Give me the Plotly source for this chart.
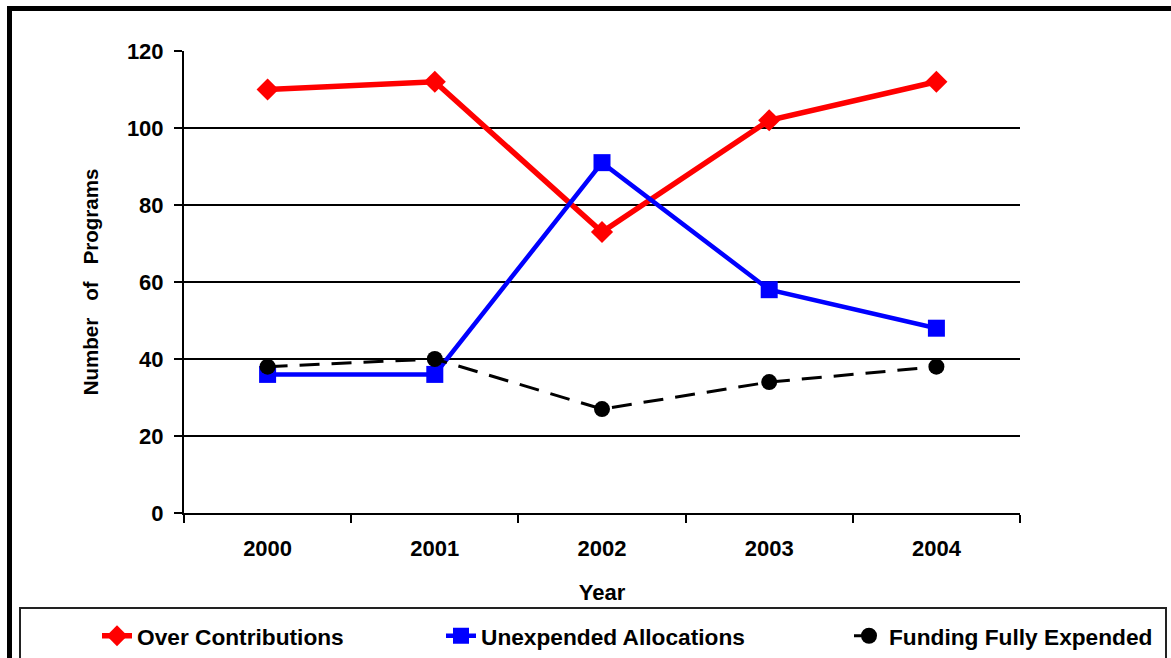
import plotly.graph_objects as go

years = ["2000", "2001", "2002", "2003", "2004"]
over_contributions = [110, 112, 73, 102, 112]
unexpended_allocations = [36, 36, 91, 58, 48]
funding_fully_expended = [38, 40, 27, 34, 38]
y_ticks = [0, 20, 40, 60, 80, 100, 120]

FONT = "Liberation Sans, Arial, sans-serif"

# plot area in pixels
W, H = 1171, 658
L, R, T, B = 184, 1020, 51, 513


def px(x):
    return (x - L) / (R - L)


def py(y):
    return (B - y) / (B - T)


fig = go.Figure()
fig.add_trace(go.Scatter(
    x=years, y=over_contributions, name="Over Contributions",
    mode="lines+markers", legend="legend",
    line=dict(color="#ff0000", width=5.5),
    marker=dict(symbol="diamond", size=17, color="#ff0000"),
))
fig.add_trace(go.Scatter(
    x=years, y=unexpended_allocations, name="Unexpended Allocations",
    mode="lines+markers", legend="legend2",
    line=dict(color="#0000ff", width=4.5),
    marker=dict(symbol="square", size=17, color="#0000ff"),
))
fig.add_trace(go.Scatter(
    x=years, y=funding_fully_expended, name="Funding Fully Expended",
    mode="lines+markers", legend="legend3",
    line=dict(color="#000000", width=3, dash="20px,12px"),
    marker=dict(symbol="circle", size=16, color="#000000"),
))

shapes = [
    # outer frame (left and top edges)
    dict(type="line", xref="paper", yref="paper", x0=px(9.5), x1=px(1175), y0=py(8.5), y1=py(8.5),
         line=dict(color="black", width=5)),
    dict(type="line", xref="paper", yref="paper", x0=px(9.5), x1=px(9.5), y0=py(6), y1=py(665),
         line=dict(color="black", width=5)),
    # legend box
    dict(type="rect", xref="paper", yref="paper", x0=px(20), x1=px(1166), y0=py(608), y1=py(670),
         line=dict(color="#222222", width=2), fillcolor="rgba(0,0,0,0)"),
]


def leg(x_text):
    return dict(
        orientation="h", x=px(x_text - 40), xanchor="left", y=py(636), yanchor="middle",
        font=dict(family=FONT, size=22.7, color="black", weight="bold"),
        bgcolor="rgba(0,0,0,0)", borderwidth=0,
    )


fig.update_layout(
    width=W, height=H,
    margin=dict(l=L, r=W - R, t=T, b=H - B, pad=0, autoexpand=False),
    paper_bgcolor="white", plot_bgcolor="white",
    font=dict(family=FONT, color="black", size=22, weight="bold"),
    showlegend=True,
    legend=leg(137),
    legend2=leg(481),
    legend3=leg(889),
    shapes=shapes,
    xaxis=dict(
        type="category", range=[-0.5, 4.5],
        tickson="boundaries", ticks="outside", ticklen=8, tickwidth=1.5, tickcolor="black",
        showline=True, linecolor="black", linewidth=2,
        showgrid=False, zeroline=False,
        tickfont=dict(family=FONT, size=22, weight="bold"),
        ticklabelstandoff=15,
        title=dict(text="Year", font=dict(family=FONT, size=22, weight="bold"), standoff=24),
    ),
    yaxis=dict(
        range=[0, 120], tickvals=y_ticks,
        ticks="outside", ticklen=8, tickwidth=1.5, tickcolor="black",
        showline=True, linecolor="black", linewidth=2,
        showgrid=True, gridcolor="black", gridwidth=1.5,
        zeroline=False,
        tickfont=dict(family=FONT, size=22, weight="bold"),
        ticklabelstandoff=6,
        title=dict(text="Number&nbsp;&nbsp;&nbsp;of&nbsp;&nbsp;&nbsp;Programs",
                   font=dict(family=FONT, size=20.5, weight="bold"), standoff=23),
    ),
)

fig.write_html("out.html", config={"displayModeBar": False},
               post_script="document.body.style.margin='0';")
